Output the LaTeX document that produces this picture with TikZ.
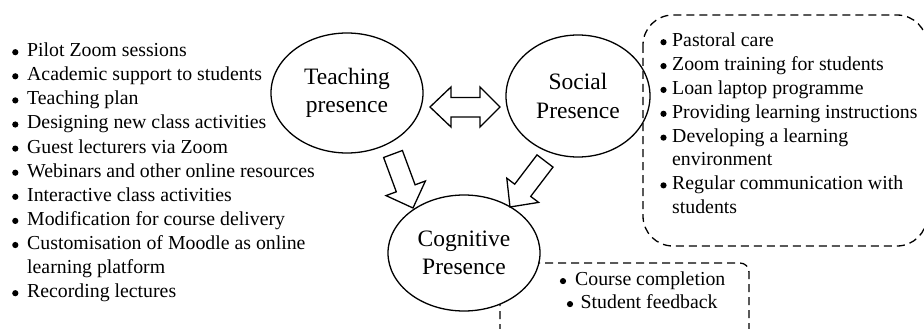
\documentclass[tikz,border=0pt]{standalone}
\usepackage{fontspec}
\setmainfont{Liberation Serif}
\usetikzlibrary{shapes.geometric}
\begin{document}
\begin{tikzpicture}[x=1pt,y=-1pt,
  pres/.style={ellipse, draw, line width=1.3pt, inner sep=0pt, align=center,
    font=\fontsize{23.5}{28.5}\selectfont},
  item/.style={anchor=base west, inner sep=0pt, font=\fontsize{19.8}{24}\selectfont},
  bul/.style={circle, fill=black, inner sep=0pt, minimum size=6.2pt},
  dbox/.style={draw, dash pattern=on 8pt off 5pt, line width=1.3pt},
  block/.style={draw, fill=white, line width=1.3pt, line join=miter}]
\useasboundingbox (0,0) rectangle (924,329);
\clip (0,0) rectangle (924,329);

% dashed boxes
\draw[dbox, rounded corners=9pt] (500,263) rectangle (749,350);
\draw[dbox, rounded corners=30pt] (643,15) rectangle (927,246);

% presence ellipses
\node[pres, minimum width=152pt, minimum height=120pt] (teach) at (347,93) {Teaching\\presence};
\node[pres, minimum width=144pt, minimum height=122pt] (social) at (578,96) {Social\\Presence};
\node[pres, fill=white, minimum width=152pt, minimum height=116pt] (cog) at (464,253) {Cognitive\\Presence};

% block arrows
\draw[block] (430,107) -- (451,87) -- (451,97.5) -- (480,97.5) -- (480,87) -- (500,107)
  -- (480,127) -- (480,117) -- (451,117) -- (451,127) -- cycle;
\draw[block] (383.6,157.5) -- (402.4,150.5) -- (415.1,184.8) -- (425.4,181.0) -- (413,208)
  -- (386.0,195.6) -- (396.3,191.8) -- cycle;
\draw[block] (537.0,154.9) -- (553.0,167.1) -- (530.7,196.4) -- (538.6,202.4) -- (510,207)
  -- (506.8,178.2) -- (514.7,184.2) -- cycle;

% left list
\foreach \b/\t [count=\i from 0] in {1/Pilot Zoom sessions, 1/Academic support to students,
  1/Teaching plan, 1/Designing new class activities, 1/Guest lecturers via Zoom,
  1/Webinars and other online resources, 1/Interactive class activities,
  1/Modification for course delivery, 1/Customisation of Moodle as online,
  0/learning platform, 1/Recording lectures}
{
  \node[item] (L\i) at ({27},{56.6+24.1*\i}) {\t};
  \ifnum\b=1 \node[bul] (LB\i) at ({15.3},{52.2+24.1*\i}) {}; \fi
}

% right list
\foreach \b/\t [count=\i from 0] in {1/Pastoral care, 1/Zoom training for students,
  1/Loan laptop programme, 1/Providing learning instructions, 1/Developing a learning,
  0/environment, 1/Regular communication with, 0/students}
{
  \node[item] (R\i) at ({672},{46.6+23.86*\i}) {\t};
  \ifnum\b=1 \node[bul] (RB\i) at ({663.5},{42.2+23.86*\i}) {}; \fi
}

% bottom list
\node[item] (C1) at (575,285.5) {Course completion};
\node[bul] (CB1) at (563,281.1) {};
\node[item] (C2) at (580.5,308.5) {Student feedback};
\node[bul] (CB2) at (570,304.1) {};
\end{tikzpicture}
\end{document}
